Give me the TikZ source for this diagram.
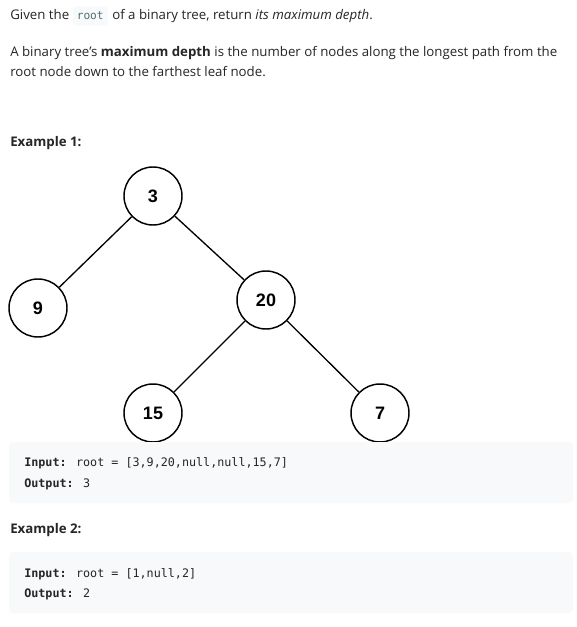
\documentclass[tikz,border=0pt]{standalone}
\usepackage{fontspec}
\setmainfont{Open Sans}
\newfontfamily\codefont{DejaVu Sans Mono}
\newfontfamily\nodefont{Liberation Sans}
\usetikzlibrary{positioning}
\usetikzlibrary{calc}
\definecolor{txt}{HTML}{262626}
\definecolor{codebg}{HTML}{F7F9FA}
\definecolor{codetxt}{HTML}{546E7A}
\begin{document}
\begin{tikzpicture}[x=0.75pt,y=-0.75pt,
    treenode/.style={circle,draw=black,line width=1.1pt,minimum size=43.5pt,inner sep=0pt,font=\nodefont\bfseries\fontsize{13.5}{14}\selectfont},
    para/.style={anchor=base west,inner sep=0pt,text=txt,font=\fontsize{9.95}{12}\selectfont},
    code/.style={anchor=base west,inner sep=0pt,text=txt,font=\codefont\fontsize{8.8}{10}\selectfont}]
    		\useasboundingbox (0,0) rectangle (577,627);
    		\fill[white] (0,0) rectangle (577,627);
    		
    		% text at the top
    		\node[para] (l1a) at (10,20) {Given the};
    		\node[anchor=base west,fill=codebg,rounded corners=2pt,text=codetxt,inner xsep=3pt,inner ysep=0pt,text height=10pt,text depth=4pt,font=\codefont\fontsize{8.4}{10}\selectfont] (rt) at ($(l1a.base east)+(3,0)$) {root};
    		\node[para] (l1b) at ($(rt.base east)+(4,0)$) {of a binary tree, return \textit{its maximum depth}.};
    		\node[para] (l2) at (10,57) {A binary tree's \textbf{maximum depth} is the number of nodes along the longest path from the};
    		\node[para] (l3) at (10,77) {root node down to the farthest leaf node.};
    		\node[para,font=\bfseries\fontsize{9.95}{12}\selectfont] (ex1) at (10,147) {Example 1:};
    		
    		% the tree
    		\node[treenode] (n3) at (153,196) {3};
    		\node[treenode] (n9) at (38,308) {9};
    		\node[treenode] (n20) at (266,300) {20};
    		\node[treenode] (n15) at (153,413) {15};
    		\node[treenode] (n7) at (380,413) {7};
    		\draw[line width=1pt] (n3) -- (n9);
    		\draw[line width=1pt] (n3) -- (n20);
    		\draw[line width=1pt] (n20) -- (n15);
    		\draw[line width=1pt] (n20) -- (n7);
    		
    		% example boxes
    		\fill[codebg,rounded corners=3pt] (9,442) rectangle (573,503);
    		\node[code] (in1) at (24,466) {\textbf{Input:} root = [3,9,20,null,null,15,7]};
    		\node[code] (out1) at (24,487) {\textbf{Output:} 3};
    		\node[para,font=\bfseries\fontsize{9.95}{12}\selectfont] (ex2) at (10,533) {Example 2:};
    		\fill[codebg,rounded corners=3pt] (9,552) rectangle (573,613);
    		\node[code] (in2) at (24,577) {\textbf{Input:} root = [1,null,2]};
    		\node[code] (out2) at (24,597) {\textbf{Output:} 2};
    	\end{tikzpicture}
\end{document}
